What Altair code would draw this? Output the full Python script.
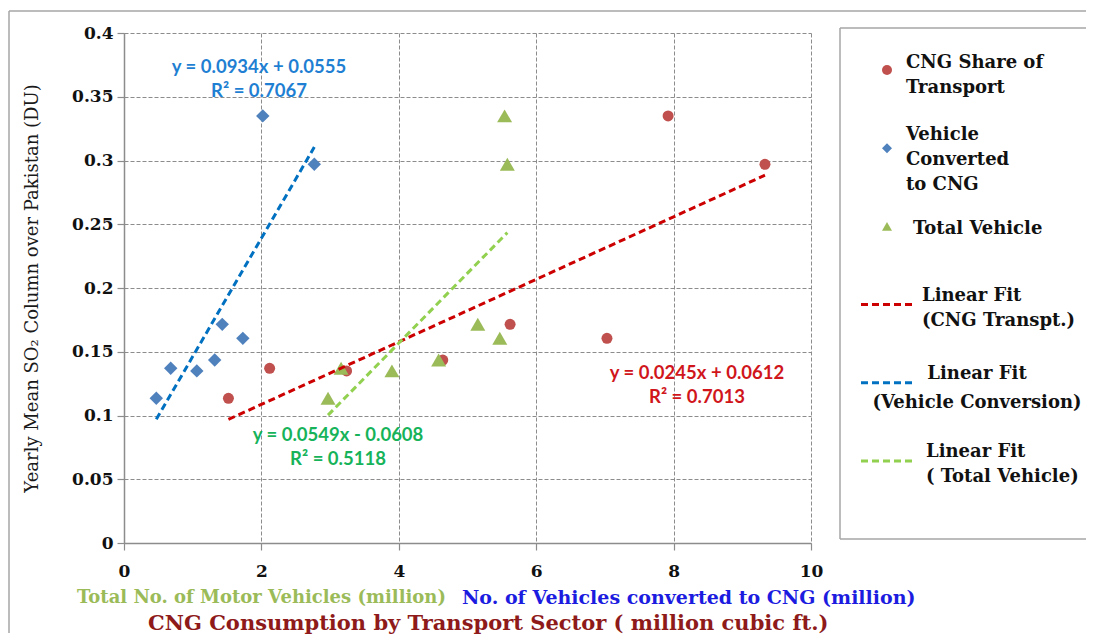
import altair as alt
import pandas as pd

# ---------------- data ----------------
so2 = [0.1135, 0.137, 0.135, 0.1435, 0.1715, 0.1605, 0.335, 0.297]
cng_transport = [1.52, 2.12, 3.24, 4.64, 5.62, 7.03, 7.92, 9.33]
vehicles_converted = [0.47, 0.68, 1.06, 1.32, 1.43, 1.73, 2.02, 2.77]
total_vehicles = [2.97, 3.16, 3.90, 4.58, 5.15, 5.47, 5.54, 5.58]

series_names = ["CNG Share of Transport", "Vehicle Converted to CNG", "Total Vehicle"]
fit_names = ["Linear Fit (CNG Transpt.)", "Linear Fit (Vehicle Conversion)", "Linear Fit (Total Vehicle)"]
point_colors = ["#C0504D", "#4F81BD", "#9BBB59"]
fit_colors = ["#CC0000", "#0070C0", "#92D050"]
shapes = ["circle", "diamond", "triangle-up"]
point_sizes = [121, 180, 225]

eq_texts = ["y = 0.0245x  + 0.0612\nR² = 0.7013",
            "y = 0.0934x  + 0.0555\nR² = 0.7067",
            "y = 0.0549x  - 0.0608\nR² = 0.5118"]
eq_x = [8.34, 1.965, 3.115]
eq_y = [0.1333, 0.3733, 0.0847]
eq_colors = ["#D0161B", "#1F7FD2", "#16B35A"]

legend_labels = ["CNG Share of\nTransport", "Vehicle\nConverted\nto CNG", "Total Vehicle",
                 "Linear Fit\n (CNG Transpt.)", "Linear Fit\n(Vehicle Conversion)", "Linear Fit\n( Total Vehicle)"]

x_ticks = [0, 2, 4, 6, 8, 10]
y_ticks = [0, 0.05, 0.1, 0.15, 0.2, 0.25, 0.3, 0.35, 0.4]

x_title_texts = ["Total No. of Motor Vehicles (million)",
                 "No. of Vehicles converted to CNG (million)",
                 "CNG Consumption by Transport Sector ( million cubic ft.)"]
x_title_colors = ["#9BBB59", "#1C1CE0", "#8E1A1A"]

# ---------------- tables ----------------
rows = []
for name, xs in zip(series_names, [cng_transport, vehicles_converted, total_vehicles]):
    for xv, yv in zip(xs, so2):
        rows.append({"series": name, "x": xv, "y": yv})
df = pd.DataFrame(rows)

eq_df = pd.DataFrame({"x": eq_x, "y": eq_y, "t": eq_texts, "c": eq_colors})

W, H = 687, 510
GRID = "#8C8C8C"
SERIF = "DejaVu Serif"

x_enc = alt.X("x:Q", scale=alt.Scale(domain=[0, 10], nice=False),
              axis=alt.Axis(values=x_ticks, title=None, grid=True, gridDash=[4, 2],
                            gridColor=GRID, gridOpacity=1, domainColor=GRID, domainWidth=1.5,
                            tickColor=GRID, tickSize=7, tickWidth=1.2, labelFont=SERIF,
                            labelFontWeight="bold", labelFontSize=17, labelColor="#111",
                            labelPadding=13, labelBaseline="top", labelFlush=False))
y_enc = alt.Y("y:Q", scale=alt.Scale(domain=[0, 0.4], nice=False),
              axis=alt.Axis(values=y_ticks, format=".2~f", grid=True, gridDash=[4, 2],
                            gridColor=GRID, gridOpacity=1, domainColor=GRID, domainWidth=1.5,
                            tickColor=GRID, tickSize=7, tickWidth=1.2, labelFont=SERIF,
                            labelFontWeight="bold", labelFontSize=17, labelColor="#111",
                            labelPadding=4, labelFlush=False,
                            title="Yearly Mean SO₂ Column over Pakistan (DU)",
                            titleFont=SERIF, titleFontSize=18, titleFontWeight="normal",
                            titleColor="#1a1a1a", titlePadding=30))

layers = []
for name, color, shape, size in zip(series_names, point_colors, shapes, point_sizes):
    layers.append(
        alt.Chart(df).transform_filter(alt.datum.series == name)
        .mark_point(shape=shape, filled=True, color=color, size=size, opacity=1)
        .encode(x=x_enc, y=y_enc)
    )
for name, color in zip(series_names, fit_colors):
    layers.append(
        alt.Chart(df).transform_filter(alt.datum.series == name)
        .transform_regression("x", "y")
        .mark_line(color=color, strokeDash=[7, 4], strokeWidth=3)
        .encode(x=x_enc, y=y_enc)
    )
layers.append(
    alt.Chart(eq_df).mark_text(lineBreak="\n", align="center", baseline="middle",
                               font="Lato", fontWeight="bold", fontSize=18.5, lineHeight=24)
    .encode(x=x_enc, y=y_enc, text="t:N", color=alt.Color("c:N", scale=None))
)

one = pd.DataFrame({"k": [0]})
# x-axis titles (three coloured lines of text)
title_style = [(-47, 565, 18), (338, 565, 19), (24, 591, 21)]
for txt, col, (px, py, fs) in zip(x_title_texts, x_title_colors, title_style):
    layers.append(
        alt.Chart(one).mark_text(text=txt, align="left", baseline="middle", font=SERIF,
                                 fontWeight="bold", fontSize=fs, color=col)
        .encode(x=alt.value(px), y=alt.value(py))
    )
# outer chart frame (left and top edges)
layers.append(alt.Chart(one).mark_rule(color="#A6A6A6", strokeWidth=1.5)
              .encode(x=alt.value(-115), y=alt.value(-22), y2=alt.value(600)))
layers.append(alt.Chart(one).mark_rule(color="#A6A6A6", strokeWidth=1.5)
              .encode(x=alt.value(-115), x2=alt.value(962), y=alt.value(-22)))

main = alt.layer(*layers).properties(width=W, height=H)

# ---------------- legend panel ----------------
leg_df = pd.DataFrame({"idx": list(range(6)), "label": legend_labels,
                       "name": series_names + fit_names})
LW = 246
ly = alt.Y("idx:Q", scale=alt.Scale(domain=[0, 5], range=[37, 428]), axis=None)
lcolor = alt.Color("name:N", scale=alt.Scale(domain=series_names + fit_names,
                                             range=point_colors + fit_colors), legend=None)
leg_layers = [
    alt.Chart(leg_df).transform_filter(alt.datum.idx < 3)
    .mark_point(filled=True, size=100, opacity=1)
    .encode(x=alt.value(47), y=ly, color=lcolor,
            shape=alt.Shape("name:N", scale=alt.Scale(domain=series_names, range=shapes), legend=None)),
    alt.Chart(leg_df).transform_filter(alt.datum.idx >= 3)
    .mark_rule(strokeDash=[7, 4], strokeWidth=3)
    .encode(x=alt.value(21), x2=alt.value(74), y=ly, color=lcolor),
]
# per-entry text placement (x offset, vertical shift of first line, alignment)
text_place = [(66, -7, "left"), (66, -13, "left"), (73, 3, "left"),
              (82, -9, "left"), (137, -9, "center"), (86, -9, "left")]
for i, (tx, tdy, tal) in enumerate(text_place):
    leg_layers.append(
        alt.Chart(leg_df).transform_filter(alt.datum.idx == i)
        .mark_text(align=tal, baseline="middle", lineBreak="\n",
                   lineHeight=29 if i == 4 else 25, font=SERIF,
                   fontWeight="bold", fontSize=18, color="#111", dy=tdy)
        .encode(x=alt.value(tx), y=ly, text="label:N")
    )
leg_layers += [
    alt.Chart(one).mark_rule(color="#A6A6A6", strokeWidth=1.5)
    .encode(x=alt.value(0), y=alt.value(-5), y2=alt.value(506)),
    alt.Chart(one).mark_rule(color="#A6A6A6", strokeWidth=1.5)
    .encode(x=alt.value(0), x2=alt.value(LW), y=alt.value(-5)),
    alt.Chart(one).mark_rule(color="#A6A6A6", strokeWidth=1.5)
    .encode(x=alt.value(0), x2=alt.value(LW), y=alt.value(506)),
]
legend = alt.layer(*leg_layers).properties(width=LW, height=H)

chart = (
    alt.hconcat(main, legend, spacing=29, bounds="flush")
    .properties(padding={"left": 0, "top": 2, "right": 0, "bottom": 0}, background="white")
    .configure_view(strokeWidth=0)
)

chart.save("out.html", embed_options={"renderer": "svg", "actions": False})
